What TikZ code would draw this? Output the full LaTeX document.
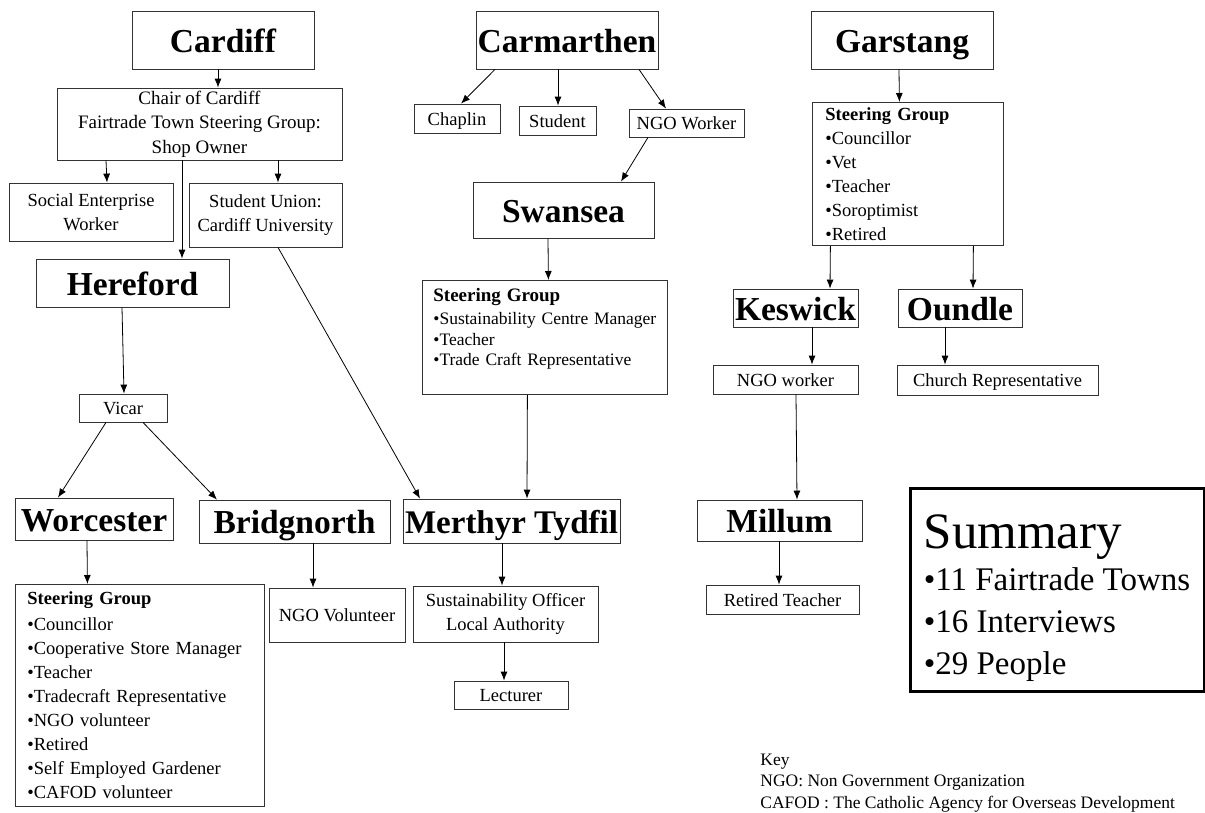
\documentclass[tikz,border=0pt]{standalone}
\usepackage{fontspec}
\setmainfont{Liberation Serif}
\usetikzlibrary{arrows.meta}

\tikzset{
  town/.style={draw=black!80, line width=0.8pt, inner sep=0pt,
    text height=24pt, text depth=0pt,
    font=\fontsize{33.5}{38}\selectfont\bfseries},
  role/.style={draw=black!80, line width=0.8pt, inner sep=0pt,
    text height=13pt, text depth=0pt,
    font=\fontsize{18.5}{24.5}\selectfont},
  role2/.style={draw=black!80, line width=0.8pt, inner sep=0pt, align=center,
    font=\fontsize{18.5}{24.5}\selectfont},
  group/.style={draw=black!80, line width=0.8pt, anchor=north west, align=left,
    inner ysep=0pt, font=\fontsize{18.5}{24}\selectfont}
}

\begin{document}
\begin{tikzpicture}[
	x=1pt, y=-1pt,
	->,
	>={Latex[length=9pt,width=7pt]},
	line width=0.8pt
  ]
  \useasboundingbox (0,0) rectangle (1205,812);

  % Cardiff side
  \node[town, minimum width=182pt, minimum height=58pt] (cardiff) at (223,40) {Cardiff};
  \node[role2, minimum width=285pt, minimum height=72pt,
        font=\fontsize{19}{24.5}\selectfont] (chair) at (199.5,124)
        {Chair of Cardiff\\Fairtrade Town Steering Group:\\Shop Owner};
  \node[role2, minimum width=164pt, minimum height=58pt] (social) at (91,212) {Social Enterprise\\Worker};
  \node[role2, minimum width=153pt, minimum height=64pt] (union) at (265.5,215) {Student Union:\\Cardiff University};
  \node[town, minimum width=193pt, minimum height=48pt] (hereford) at (132.5,283) {Hereford};
  \node[role, minimum width=88pt, minimum height=28pt] (vicar) at (123,408) {Vicar};
  \node[town, minimum width=158pt, minimum height=42pt] (worcester) at (94,519) {Worcester};
  \node[town, minimum width=191pt, minimum height=43pt] (bridgnorth) at (294.5,521.5) {Bridgnorth};
  \node[group, inner xsep=12pt, text width=225pt, minimum height=222pt] (worcsg) at (15,584)
        {{\bfseries Steering Group}\\[2pt]
         •Councillor\\ •Cooperative  Store Manager\\ •Teacher\\ •Tradecraft  Representative\\
         •NGO volunteer\\ •Retired\\ •Self Employed  Gardener\\ •CAFOD volunteer};
  \node[role, minimum width=136pt, minimum height=54pt] (ngovol) at (337,615) {NGO Volunteer};

  % Carmarthen side
  \node[town, minimum width=182pt, minimum height=58pt] (carmarthen) at (567,40) {Carmarthen};
  \node[role, minimum width=86pt, minimum height=29pt] (chaplin) at (457,118.5) {Chaplin};
  \node[role, minimum width=77pt, minimum height=29pt] (student) at (557.5,120.5) {Student};
  \node[role, minimum width=115pt, minimum height=28pt] (ngoworker) at (686.5,123) {NGO Worker};
  \node[town, minimum width=181pt, minimum height=56pt] (swansea) at (563.5,210) {Swansea};
  \node[group, inner xsep=11pt, text width=223pt, minimum height=114pt,
        font=\fontsize{17.5}{20.5}\selectfont] (swansg) at (422,280)
        {{\fontsize{19}{20.5}\selectfont\bfseries Steering Group}\\[2.5pt]
         •Sustainability  Centre Manager\\ •Teacher\\ •Trade Craft Representative\\ \mbox{}};
  \node[town, minimum width=217pt, minimum height=44pt,
        font=\fontsize{33}{38}\selectfont\bfseries] (merthyr) at (511.5,521) {Merthyr Tydfil};
  \node[role2, minimum width=185pt, minimum height=56pt] (officer) at (505.5,614) {Sustainability  Officer\\Local Authority};
  \node[role, minimum width=114pt, minimum height=28pt] (lecturer) at (511,695) {Lecturer};

  % Garstang side
  \node[town, minimum width=182pt, minimum height=58pt] (garstang) at (902,40) {Garstang};
  \node[group, inner xsep=13pt, text width=165pt, minimum height=143pt] (garsg) at (812,102)
        {{\bfseries Steering Group}\\ •Councillor\\ •Vet\\ •Teacher\\ •Soroptimist\\ •Retired};
  \node[town, minimum width=125pt, minimum height=38pt] (keswick) at (795.5,308) {Keswick};
  \node[town, minimum width=124pt, minimum height=38pt] (oundle) at (960,308) {Oundle};
  \node[role, minimum width=145pt, minimum height=29pt] (ngowk) at (785.5,379.5) {NGO worker};
  \node[role, minimum width=201pt, minimum height=30pt] (church) at (997.5,380) {Church  Representative};
  \node[town, minimum width=165pt, minimum height=41pt] (millum) at (779.5,520.5) {Millum};
  \node[role, minimum width=153pt, minimum height=29pt] (retired) at (782.5,599.5) {Retired  Teacher};

  % summary and key
  \node[draw, line width=3pt, anchor=north west, align=left, inner sep=0pt,
        minimum width=294pt, minimum height=203pt,
        font=\fontsize{33}{42}\selectfont] (summary) at (908.5,486.5)
        {\rule{0pt}{51pt}{\fontsize{51}{51}\selectfont Summary}\\
         •11 Fairtrade Towns\\ •16 Interviews\\ •29 People};
  \node[anchor=north west, align=left, inner sep=0pt,
        font=\fontsize{17.5}{21.5}\selectfont] (key) at (760,753.5)
        {Key\\NGO: Non Government Organization\\CAFOD : The Catholic Agency for Overseas Development};

  \path ([xshift=-5pt]cardiff.south)      edge ([xshift=18.5pt]chair.north)
        ([xshift=-93.5pt]chair.south)     edge ([xshift=16pt]social.north)
        ([xshift=78.5pt]chair.south)      edge ([xshift=12.5pt]union.north)
        ([xshift=-17.5pt]chair.south)     edge ([xshift=49.5pt]hereford.north)
        ([xshift=12.5pt]union.south)      edge ([xshift=-91.5pt]merthyr.north)
        ([xshift=-10.5pt]hereford.south)  edge ([xshift=1pt]vicar.north)
        ([xshift=-17pt]vicar.south)       edge ([xshift=-36pt]worcester.north)
        ([xshift=20pt]vicar.south)        edge ([xshift=-77.5pt]bridgnorth.north)
        ([xshift=-7pt]worcester.south)    edge ([xshift=-52.5pt]worcsg.north)
        ([xshift=18.5pt]bridgnorth.south) edge ([xshift=-24pt]ngovol.north);

  \path ([xshift=-72pt]carmarthen.south)  edge ([xshift=4pt]chaplin.north)
        ([xshift=-9pt]carmarthen.south)   edge ([xshift=0.5pt]student.north)
        ([xshift=72pt]carmarthen.south)   edge ([xshift=-20.5pt]ngoworker.north)
        ([xshift=-38.5pt]ngoworker.south) edge ([xshift=57.5pt]swansea.north)
        ([xshift=-15.5pt]swansea.south)   edge ([xshift=3.5pt]swansg.north)
        ([xshift=-17.5pt]swansg.south)    edge ([xshift=15.5pt]merthyr.north)
        ([xshift=-9.5pt]merthyr.south)    edge ([xshift=-3.5pt]officer.north)
        ([xshift=-1.5pt]officer.south)    edge ([xshift=-7pt]lecturer.north);

  \path ([xshift=-3pt]garstang.south)     edge ([xshift=-8.5pt]garsg.north)
        ([xshift=-77.5pt]garsg.south)     edge ([xshift=34.5pt]keswick.north)
        ([xshift=65.5pt]garsg.south)      edge ([xshift=13pt]oundle.north)
        ([xshift=16.5pt]keswick.south)    edge ([xshift=26.5pt]ngowk.north)
        ([xshift=-15pt]oundle.south)      edge ([xshift=-52.5pt]church.north)
        ([xshift=10.5pt]ngowk.south)      edge ([xshift=17.5pt]millum.north)
        ([xshift=-0.5pt]millum.south)     edge ([xshift=-3.5pt]retired.north);

\end{tikzpicture}
\end{document}
